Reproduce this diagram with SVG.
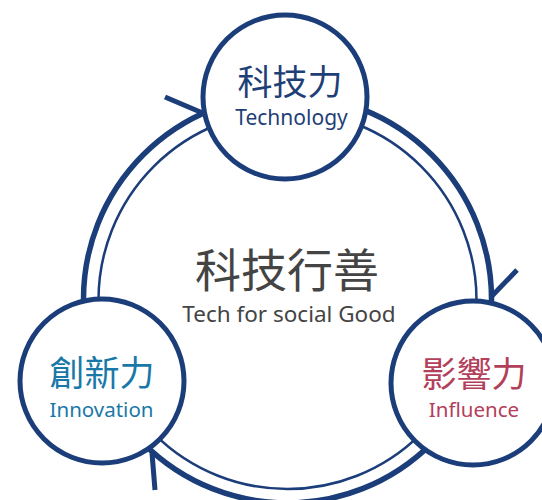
<svg xmlns="http://www.w3.org/2000/svg" width="542" height="500" viewBox="0 0 542 500">
<style>
.node{fill:#fff;stroke:#1b3d7a;stroke-width:5}
.ring{fill:none;stroke:#1b3d7a}
.cjk{font-family:"Noto Sans CJK TC","Noto Sans",sans-serif;text-anchor:middle}
.en{font-family:"Noto Sans","Noto Sans CJK TC",sans-serif;text-anchor:middle}
</style>
<rect width="542" height="500" fill="#fff"/>
<g id="connectors" class="ring" stroke-linecap="butt">
<circle cx="287.5" cy="299" r="204" stroke-width="5.5"/>
<circle cx="287.5" cy="300" r="189" stroke-width="2.5"/>
<line x1="165" y1="97" x2="205" y2="114" stroke-width="5"/>
<line x1="517" y1="270" x2="491" y2="297" stroke-width="5"/>
<line x1="155" y1="490" x2="152" y2="453" stroke-width="5"/>
</g>
<g id="center">
<text class="cjk" x="287" y="287" font-size="46" fill="#444">科技行善</text>
<text class="en" x="289" y="322" font-size="22.5" fill="#444">Tech for social Good</text>
</g>
<g id="technology">
<circle class="node" cx="285" cy="97" r="82"/>
<text class="cjk" x="290" y="95" font-size="35" fill="#1f3f77">科技力</text>
<text class="en" x="291.5" y="125" font-size="21" fill="#1f3f77">Technology</text>
</g>
<g id="innovation">
<circle class="node" cx="102" cy="381" r="82"/>
<text class="cjk" x="102" y="386" font-size="35" fill="#1a78a8">創新力</text>
<text class="en" x="101.5" y="417" font-size="20.5" fill="#1a78a8">Innovation</text>
</g>
<g id="influence">
<circle class="node" cx="473" cy="383" r="82"/>
<text class="cjk" x="474" y="387" font-size="35" fill="#b3405a">影響力</text>
<text class="en" x="474" y="417" font-size="20.5" fill="#b3405a">Influence</text>
</g>
</svg>
